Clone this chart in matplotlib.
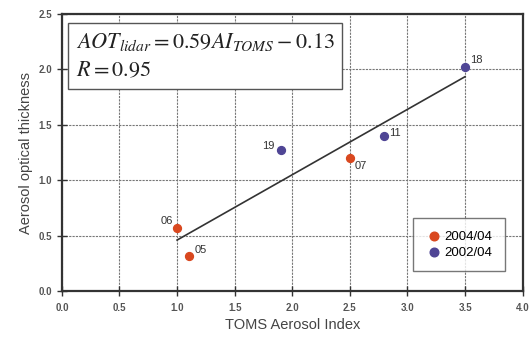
import matplotlib
matplotlib.use("Agg")
import matplotlib.pyplot as plt

plt.rcParams['font.family'] = ['Liberation Sans', 'DejaVu Sans']
plt.rcParams['mathtext.fontset'] = 'stix'

# data
labels_04 = ['06', '05', '07']
ai_04 = [1.0, 1.1, 2.5]
aot_04 = [0.57, 0.32, 1.20]

labels_02 = ['19', '11', '18']
ai_02 = [1.9, 2.8, 3.5]
aot_02 = [1.27, 1.40, 2.02]

slope = 0.59
intercept = -0.13
fit_x = [1.0, 3.5]

red = '#d9481f'
blue = '#4f4595'

fig = plt.figure(figsize=(5.29, 3.44), dpi=100)
ax = fig.add_axes([0.117, 0.154, 0.871, 0.805])

ax.plot(fit_x, [slope * v + intercept for v in fit_x], color='#333333', lw=1.2, zorder=2)
ax.scatter(ai_04, aot_04, s=32, color=red, zorder=3, label='2004/04')
ax.scatter(ai_02, aot_02, s=32, color=blue, zorder=3, label='2002/04')

offs = {'06': (-0.14, 0.06), '05': (0.05, 0.05), '07': (0.04, -0.07),
        '19': (-0.16, 0.04), '11': (0.04, 0.03), '18': (0.04, 0.07)}
for lab, x, y in zip(labels_04 + labels_02, ai_04 + ai_02, aot_04 + aot_02):
    dx, dy = offs[lab]
    ax.text(x + dx, y + dy, lab, fontsize=8, color='#333333', va='center')

ax.set_xlim(0, 4)
ax.set_ylim(0, 2.5)
ax.set_xticks([0, 0.5, 1.0, 1.5, 2.0, 2.5, 3.0, 3.5, 4.0])
ax.set_yticks([0, 0.5, 1.0, 1.5, 2.0, 2.5])
ax.xaxis.set_major_formatter(matplotlib.ticker.FormatStrFormatter('%.1f'))
ax.yaxis.set_major_formatter(matplotlib.ticker.FormatStrFormatter('%.1f'))
ax.grid(True, color='#777777', lw=0.8, ls=(0, (2, 1)))
ax.tick_params(direction='inout', length=7, width=1, labelsize=7, colors='#333333')
ax.tick_params(axis='x', pad=5)
for lbl in ax.get_xticklabels() + ax.get_yticklabels():
    lbl.set_fontweight('bold')
    lbl.set_color('#555555')
for sp in ax.spines.values():
    sp.set_linewidth(1.6)
    sp.set_color('#333333')

ax.set_xlabel('TOMS Aerosol Index', fontsize=10.5, color='#444444')
ax.set_ylabel('Aerosol optical thickness', fontsize=10.5, color='#444444')

ax.text(0.03, 0.94,
        '$AOT_{lidar}=0.59AI_{TOMS}-0.13$\n$R=0.95$',
        transform=ax.transAxes, fontsize=16, va='top', ha='left', color='#222222',
        linespacing=1.5,
        bbox=dict(boxstyle='square,pad=0.35', fc='white', ec='#555555', lw=1))

ax.legend(loc='lower right', bbox_to_anchor=(0.975, 0.05), fontsize=9.5, frameon=True,
          fancybox=False, edgecolor='#555555', handletextpad=0.2, borderpad=0.9,
          labelspacing=0.3, handlelength=1.3, markerscale=1.1)

fig.savefig('out.png', dpi=100)
